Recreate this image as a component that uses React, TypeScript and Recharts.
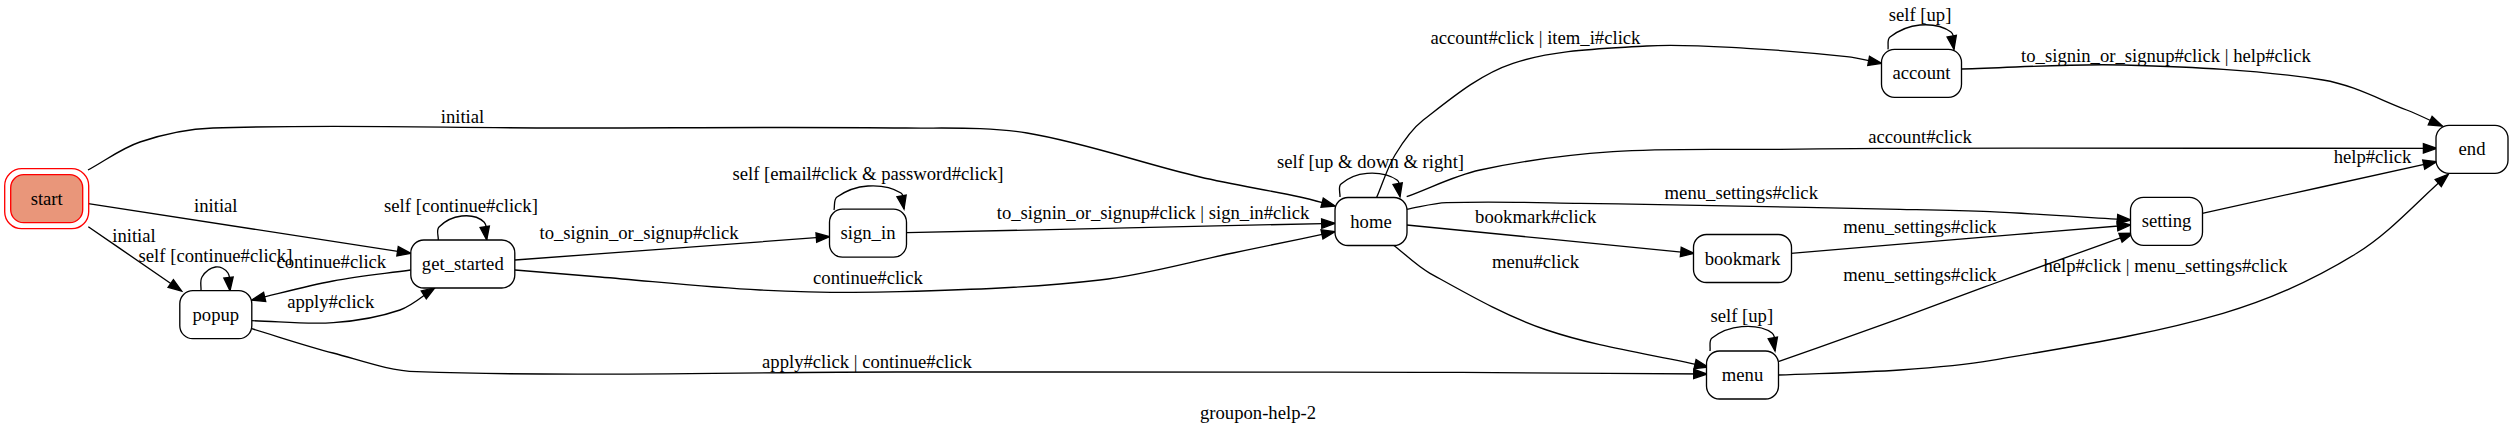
import React from "react";
import { ScatterChart, Scatter, XAxis, YAxis } from "recharts";

const W = 2517;
const H = 435;
const FONT = "'Liberation Serif', 'Times New Roman', Times, serif";
const FS = 18.67;

// states (centre of each box, graph pixels)
const nodeNames = ["start", "popup", "get_started", "sign_in", "home", "account", "bookmark", "menu", "setting", "end"];
const nodeX = [46.7, 215.8, 462.8, 868, 1371, 1921.5, 1742.5, 1742.5, 2166.5, 2472];
const nodeY = [198.7, 314.7, 264, 233.2, 221.5, 73.3, 258.5, 375, 221.3, 149.3];

// transitions
const edgeLabels = [
  "initial",
  "initial",
  "initial",
  "self [continue#click]",
  "continue#click",
  "apply#click",
  "self [continue#click]",
  "to_signin_or_signup#click",
  "continue#click",
  "self [email#click & password#click]",
  "to_signin_or_signup#click | sign_in#click",
  "self [up & down & right]",
  "account#click | item_i#click",
  "self [up]",
  "to_signin_or_signup#click | help#click",
  "account#click",
  "menu_settings#click",
  "bookmark#click",
  "menu#click",
  "menu_settings#click",
  "menu_settings#click",
  "self [up]",
  "apply#click | continue#click",
  "help#click | menu_settings#click",
  "help#click",
];
const labelX = [462.5, 215.8, 134, 215.5, 331.3, 330.7, 461, 639, 868, 868, 1153, 1370.5, 1535.5, 1920, 2166, 1920, 1741.3, 1535.7, 1535.5, 1920, 1920, 1741.8, 867, 2165.5, 2372.5];
const labelY = [117, 206, 235.7, 256, 262.3, 302.3, 205.7, 233, 278, 174, 213.3, 162.3, 38.3, 15, 56, 137.3, 193.3, 217.3, 262.3, 226.7, 275, 316, 361.7, 266, 156.7];

// points along each transition, last point is the arrow tip
const edgePaths: number[][][] = [
  [[88, 170], [140, 142], [213, 128], [560, 128], [906, 128], [1027, 133], [1200, 177], [1300, 197], [1335, 206]],
  [[88.3, 203.7], [410.7, 253.3]],
  [[88.3, 226.7], [181.7, 291]],
  [[201, 290.7], [202, 277], [215.5, 267], [228, 273], [230, 290.7]],
  [[410.7, 270], [333, 281], [251.7, 300]],
  [[251.7, 320.7], [333.3, 322.7], [400, 310], [435, 287.7]],
  [[438.3, 240], [439, 227], [461.7, 216], [484, 222], [486.7, 240]],
  [[515, 260], [829.6, 236.7]],
  [[515, 270], [600, 277], [760, 290], [900, 291.7], [1100, 280], [1233, 253], [1335, 231.7]],
  [[834, 210], [837, 197], [868, 186], [901, 193], [904, 209]],
  [[906.7, 232.7], [1335, 223.3]],
  [[1340, 197], [1341, 184], [1367, 173.3], [1397, 180], [1400, 196.7]],
  [[1376.7, 197.3], [1395, 155], [1423.3, 120], [1513, 63.3], [1646.7, 46], [1746.7, 48.3], [1846.7, 56.7], [1881.7, 63.3]],
  [[1888, 49.3], [1890, 37], [1920, 25], [1951, 32], [1954, 49.3]],
  [[1962, 69], [2123, 65], [2323, 80], [2406.7, 110], [2442.3, 126]],
  [[1406.7, 196.7], [1480, 170], [1613, 151.7], [1780, 149.3], [1900, 148.3], [2436.7, 148.3]],
  [[1406.7, 209.3], [1446.7, 202.7], [1580, 203.3], [1900, 209.3], [1990, 211.7], [2130.7, 220]],
  [[1406.7, 225], [1694, 253.3]],
  [[1393.3, 245], [1430, 273.3], [1546.7, 330], [1708, 367]],
  [[1791, 253.3], [1990, 236.7], [2130.7, 225]],
  [[1778.3, 361.7], [1900, 318.3], [1990, 285], [2133, 233.3]],
  [[1710, 351], [1712, 338], [1741.7, 326.7], [1772, 333], [1775, 351]],
  [[251.7, 328.7], [333, 353], [416.7, 371.7], [900, 372], [1420, 372.3], [1707, 374]],
  [[1778.3, 375], [1900, 370], [1990, 360.7], [2223, 313.3], [2356.7, 253.3], [2448.3, 174.3]],
  [[2202.3, 213.3], [2436.7, 161.7]],
];

const titleText = "groupon-help-2";
const titleX = 1258;
const titleY = 413;

let measureCtx: CanvasRenderingContext2D | null = null;
function textWidth(s: string) {
  if (!measureCtx) measureCtx = document.createElement("canvas").getContext("2d");
  if (!measureCtx) return s.length * 9;
  measureCtx.font = `${FS}px 'Liberation Serif'`;
  return measureCtx.measureText(s).width;
}

type Pt = { x: number; y: number };

function unit(dx: number, dy: number) {
  const l = Math.hypot(dx, dy) || 1;
  return [dx / l, dy / l];
}

// smooth path through the pixel points + filled arrow head at the end
function EdgeLine(props: any) {
  const pts: Pt[] = props.points || [];
  if (pts.length < 2) return null;
  const n = pts.length;
  const dirs = pts.map((p, i) => {
    const a = pts[Math.max(0, i - 1)];
    const b = pts[Math.min(n - 1, i + 1)];
    return unit(b.x - a.x, b.y - a.y);
  });
  let d = `M${pts[0].x},${pts[0].y}`;
  for (let i = 0; i < n - 1; i++) {
    const p1 = pts[i];
    const p2 = pts[i + 1];
    const len = Math.hypot(p2.x - p1.x, p2.y - p1.y) / 3;
    const c1x = p1.x + dirs[i][0] * len;
    const c1y = p1.y + dirs[i][1] * len;
    const c2x = p2.x - dirs[i + 1][0] * len;
    const c2y = p2.y - dirs[i + 1][1] * len;
    d += ` C${c1x},${c1y} ${c2x},${c2y} ${p2.x},${p2.y}`;
  }
  const tip = pts[n - 1];
  const [ux, uy] = dirs[n - 1];
  const bx = tip.x - ux * 13.3;
  const by = tip.y - uy * 13.3;
  const hw = 4.7;
  const arrow = `${tip.x},${tip.y} ${bx - uy * hw},${by + ux * hw} ${bx + uy * hw},${by - ux * hw}`;
  return (
    <g>
      <path d={d} fill="none" stroke="#000" strokeWidth={1.33} />
      <polygon points={arrow} fill="#000" stroke="#000" strokeWidth={1.33} />
    </g>
  );
}

const NodeShape = (p: any) => {
  const { cx, cy, payload } = p;
  const w = Math.max(72, Math.round(textWidth(payload.name) + 22));
  const h = 48;
  const isStart = payload.name === "start";
  return (
    <g>
      {isStart && (
        <rect x={cx - w / 2 - 6} y={cy - h / 2 - 6} width={w + 12} height={h + 12} rx={17} fill="none" stroke="#ff0000" strokeWidth={1.33} />
      )}
      <rect
        x={cx - w / 2}
        y={cy - h / 2}
        width={w}
        height={h}
        rx={13}
        fill={isStart ? "#e9967a" : "#ffffff"}
        stroke={isStart ? "#ff0000" : "#000"}
        strokeWidth={1.33}
      />
      <text x={cx} y={cy} dy="0.33em" textAnchor="middle" fontFamily={FONT} fontSize={FS} fill="#000">
        {payload.name}
      </text>
    </g>
  );
};

const TextShape = (p: any) => (
  <text x={p.cx} y={p.cy} dy="0.33em" textAnchor="middle" fontFamily={FONT} fontSize={FS} fill="#000">
    {p.payload.text}
  </text>
);

const Hidden = () => <g />;

export default function App() {
  const nodes = nodeNames.map((name, i) => ({ x: nodeX[i], y: nodeY[i], name }));
  const labels = edgeLabels.map((text, i) => ({ x: labelX[i], y: labelY[i], text }));
  const title = [{ x: titleX, y: titleY, text: titleText }];

  return (
    <div style={{ position: "absolute", left: 0, top: 0, width: W, height: H, background: "#fff" }}>
      <ScatterChart width={W} height={H} margin={{ top: 0, right: 0, bottom: 0, left: 0 }}>
        <XAxis type="number" dataKey="x" domain={[0, W]} hide />
        <YAxis type="number" dataKey="y" domain={[0, H]} reversed hide />
        {edgePaths.map((path, i) => (
          <Scatter
            key={`edge-${i}`}
            data={path.map(([x, y]) => ({ x, y }))}
            line={EdgeLine}
            shape={Hidden}
            isAnimationActive={false}
          />
        ))}
        <Scatter data={labels} shape={TextShape} isAnimationActive={false} />
        <Scatter data={nodes} shape={NodeShape} isAnimationActive={false} />
        <Scatter data={title} shape={TextShape} isAnimationActive={false} />
      </ScatterChart>
    </div>
  );
}
